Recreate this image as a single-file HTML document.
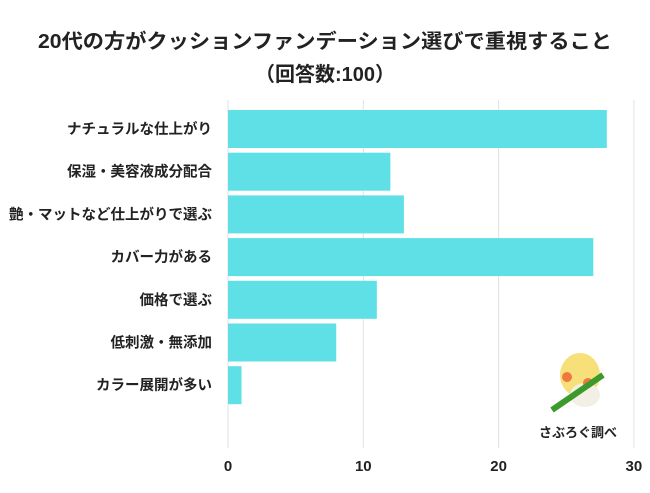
<!DOCTYPE html>
<html><head><meta charset="utf-8"><style>
body{margin:0;background:#fff;}
svg text{font-family:"Liberation Sans","Noto Sans CJK JP",sans-serif;font-weight:bold;fill:#222;}
</style></head><body>
<svg id="c" width="650" height="488">
<text x="325" y="48" text-anchor="middle" font-size="20" textLength="574" lengthAdjust="spacingAndGlyphs">20代の方がクッションファンデーション選びで重視すること</text>
<text x="325" y="81" text-anchor="middle" font-size="20">（回答数:100）</text>
<g id="grid"></g><g id="bars"></g><g id="labels"></g><g id="ticks"></g>
<g>
<ellipse cx="580" cy="375" rx="20" ry="22" fill="#f7e07a"/>
<ellipse cx="585" cy="395" rx="15" ry="12" fill="#f4efe4"/>
<circle cx="567" cy="377" r="5" fill="#f07840"/>
<circle cx="588" cy="383" r="5" fill="#f07840"/>
<line x1="552" y1="410" x2="603" y2="375" stroke="#3a9a2a" stroke-width="6"/>
<text x="578" y="437" text-anchor="middle" font-size="13">さぶろぐ調べ</text>
</g>
</svg>
<script>
const categories=["ナチュラルな仕上がり","保湿・美容液成分配合","艶・マットなど仕上がりで選ぶ","カバー力がある","価格で選ぶ","低刺激・無添加","カラー展開が多い"];
const values=[28,12,13,27,11,8,1];
const ticks=[0,10,20,30];
const NS="http://www.w3.org/2000/svg";
const x=v=>228+v*13.53;
const y=i=>110+i*42.7;
function mk(t,a,p){const e=document.createElementNS(NS,t);for(const k in a)e.setAttribute(k,a[k]);document.getElementById(p).appendChild(e);return e;}
ticks.forEach(t=>{
 const l=mk('line',{x1:x(t),x2:x(t),y1:100,y2:448,stroke:'#e2e2e2','stroke-width':1},'grid');
 
 
 const tx=mk('text',{x:x(t),y:471,'text-anchor':'middle','font-size':15},'ticks');
 tx.textContent=t;
 
 
});
categories.forEach((c,i)=>{
 const r=mk('rect',{x:x(0),y:y(i),width:x(values[i])-x(0),height:38,fill:'#5ee0e6'},'bars');
 
 
 const t=mk('text',{x:212,y:y(i)+24,'text-anchor':'end','font-size':14.5},'labels');
 t.textContent=c;
 
 
});
</script>
</body></html>
